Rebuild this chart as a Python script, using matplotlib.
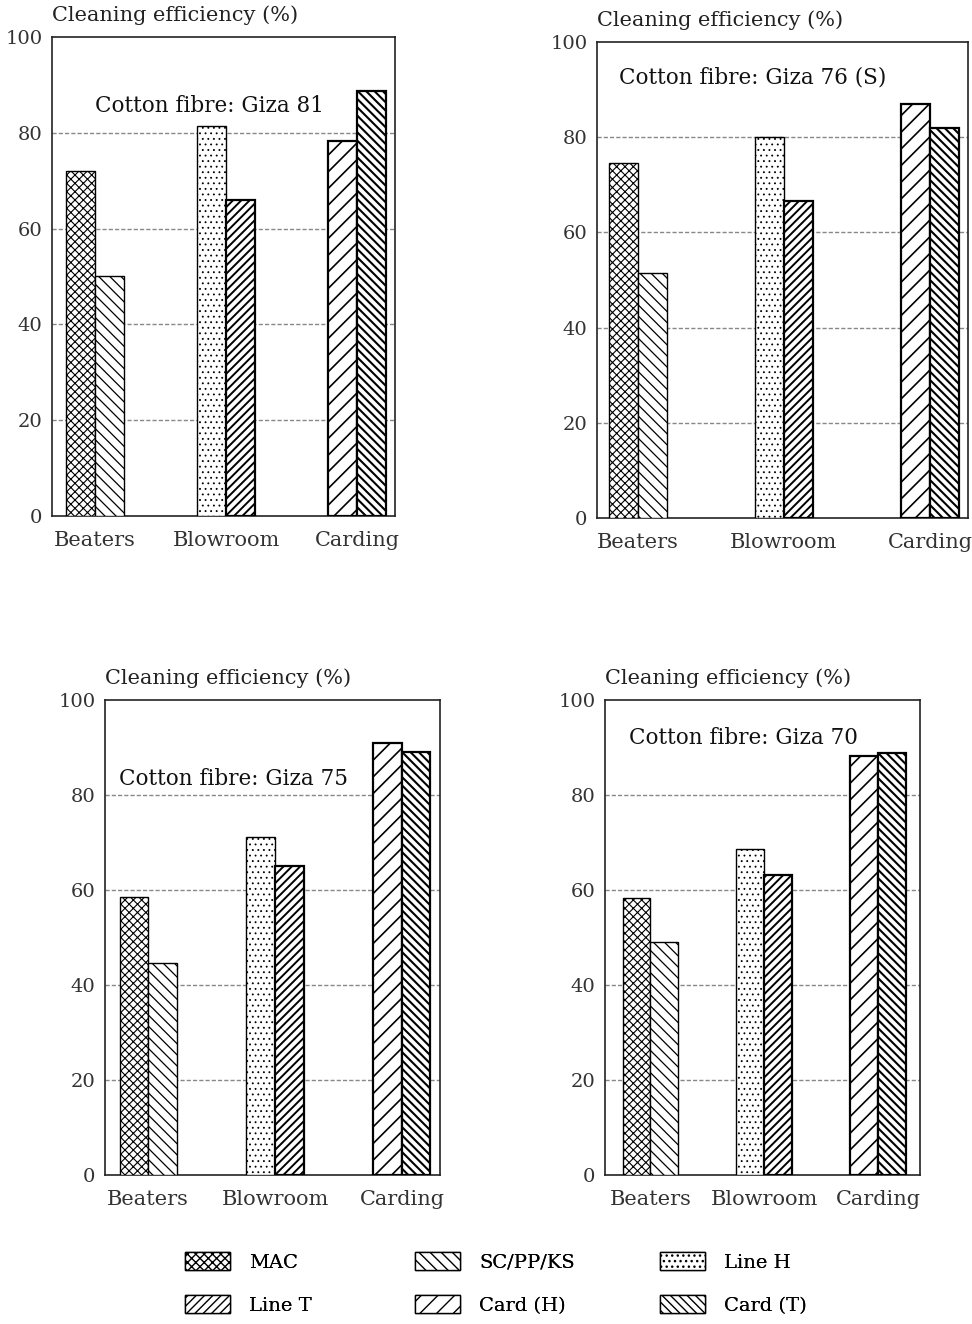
import matplotlib
matplotlib.use("Agg")
import matplotlib.pyplot as plt
from matplotlib.patches import Patch

plt.rcParams['font.family'] = ['DejaVu Serif']
plt.rcParams['hatch.linewidth'] = 1.0

categories = ["Beaters", "Blowroom", "Carding"]
series = ["MAC", "SC/PP/KS", "Line H", "Line T", "Card (H)", "Card (T)"]
# group index of each series, and side (left/right bar within group)
series_group = [0, 0, 1, 1, 2, 2]
series_side = [-1, 1, -1, 1, -1, 1]

titles = ["Cotton fibre: Giza 81", "Cotton fibre: Giza 76 (S)",
          "Cotton fibre: Giza 75", "Cotton fibre: Giza 70"]
giza81 = [72, 50, 81.5, 66, 78.3, 88.7]
giza76s = [74.5, 51.5, 80, 66.5, 87, 82]
giza75 = [58.5, 44.6, 71.2, 65, 91, 89]
giza70 = [58.3, 49, 68.6, 63.2, 88.3, 88.8]
panel_values = [giza81, giza76s, giza75, giza70]

yticks = [0, 20, 40, 60, 80, 100]
ylabel = "Cleaning efficiency (%)"

hatches = ["xxxx", "\\\\\\", "...", "////", "//", "\\\\\\\\"]
hatch_lw = [0.8, 0.9, 0.6, 1.4, 1.2, 1.5]
edge_lw = [1.0, 1.0, 1.0, 1.6, 1.6, 1.6]

W, H = 972, 1324
fig = plt.figure(figsize=(W / 100, H / 100), dpi=100)

# axes boxes in pixels: left, right, top(100), bottom(0)
boxes = [(52, 395, 37, 516), (597, 968, 42, 518),
         (105, 440, 700, 1175), (605, 920, 700, 1175)]
title_pos = [(0.46, 85.5), (0.42, 92.5), (0.385, 83.3), (0.44, 92)]
xlims = [(-0.33, 2.29), (-0.28, 2.26), (-0.34, 2.3), (-0.40, 2.37)]
bar_w = [0.22, 0.20, 0.225, 0.245]

for p in range(4):
    l, r, t, b = boxes[p]
    ax = fig.add_axes([l / W, 1 - b / H, (r - l) / W, (b - t) / H])
    vals = panel_values[p]
    bw = bar_w[p]
    for i, v in enumerate(vals):
        x = series_group[i] + series_side[i] * bw / 2
        bars = ax.bar(x, v, width=bw, color="white", edgecolor="black",
                      hatch=hatches[i], linewidth=edge_lw[i], zorder=3)
        for patch in bars:
            try:
                patch.set_hatch_linewidth(hatch_lw[i])
            except AttributeError:
                pass
    ax.set_ylim(0, 100)
    ax.set_xlim(*xlims[p])
    ax.set_yticks(yticks)
    ax.set_yticklabels([str(v) for v in yticks], fontsize=14, color="#333333")
    ax.set_xticks(range(len(categories)))
    ax.set_xticklabels(categories, fontsize=15, color="#333333")
    ax.tick_params(axis="y", length=0, pad=7)
    ax.tick_params(axis="x", length=0, pad=11)
    for yv in yticks[1:-1]:
        ax.axhline(yv, color="#888888", lw=1.0, ls=(0, (3, 1.5)), zorder=1)
    for s in ax.spines.values():
        s.set_linewidth(1.2)
        s.set_color("#222222")
    ax.text(0.0, 1.025, ylabel, transform=ax.transAxes, ha="left", va="bottom",
            fontsize=15, color="#222222")
    tx, ty = title_pos[p]
    ax.text(tx, ty / 100, titles[p], transform=ax.transAxes, ha="center",
            va="center", fontsize=15.5, color="#111111", zorder=5)

# legend: three columns of two entries
handles = []
for i, name in enumerate(series):
    handles.append(Patch(facecolor="white", edgecolor="black", hatch=hatches[i],
                         linewidth=1.0, label=name))
columns = [[0, 3], [1, 4], [2, 5]]
col_x = [185, 415, 660]
for cx, idx in zip(col_x, columns):
    leg = fig.legend([handles[i] for i in idx], [series[i] for i in idx],
                     loc="upper left", bbox_to_anchor=(cx / W, 1 - 1252 / H),
                     frameon=False, fontsize=14, handlelength=2.3,
                     handleheight=1.05, labelspacing=1.2, handletextpad=1.0,
                     borderpad=0, borderaxespad=0)
    fig.add_artist(leg)

fig.savefig("out.png", dpi=100, facecolor="white")
